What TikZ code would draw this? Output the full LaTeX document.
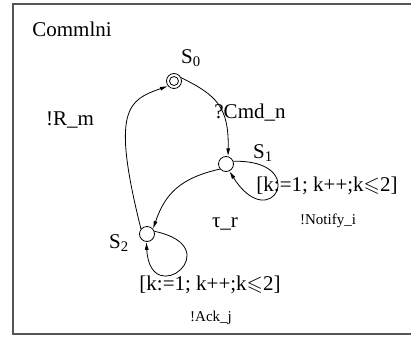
\documentclass[tikz,border=0pt]{standalone}
\usepackage{amssymb}
\usepackage{fontspec}
\setmainfont{Liberation Serif}
\usetikzlibrary{arrows.meta}
\definecolor{framegray}{HTML}{555555}
\tikzset{
  state/.style={circle,draw,line width=0.8pt,inner sep=0pt,minimum size=15pt},
  arr/.style={line width=0.8pt,-{Latex[length=8pt,width=4pt]}},
  big/.style={font=\fontsize{21}{24}\selectfont,inner sep=0pt},
  small/.style={font=\fontsize{15}{18}\selectfont,inner sep=0pt},
}
\begin{document}
\begin{tikzpicture}[x=1pt,y=-1pt]
\useasboundingbox (0,0) rectangle (411,337);
\draw[framegray,line width=2pt] (412,4) -- (13,4) -- (13,334) -- (412,334);

\node[big] (title) at (72,29) {Commlni};

\node[state] (s0) at (174,81) {};
\draw[line width=0.8pt] (s0.center) circle (4.5);
\node[state] (s1) at (226,164) {};
\node[state] (s2) at (147,234) {};

\node[big] (l0) at (191,58) {S\textsubscript{0}};
\node[big] (l1) at (263,153) {S\textsubscript{1}};
\node[big] (l2) at (119,243) {S\textsubscript{2}};

\draw[arr] (s2.140) .. controls +(-30,-120) and +(-40,14) .. (s0.220);
\draw[arr] (s0.25) .. controls +(35,17.5) and +(1,-50) .. (s1.75);
\draw[arr] (s1.220) .. controls +(-40,9) and +(12,-35) .. (s2.40);
\draw[arr] (s1.20) .. controls +(78,-2) and +(42,66) .. (s1.-65);
\draw[arr] (s2.20) .. controls +(76,16) and +(4,70) .. (s2.-95);

\node[big] (rm) at (70,120) {!R\_m};
\node[big] (cmd) at (250,113) {?Cmd\_n};
\node[big] (g1) at (327,186) {[k:=1; k++;k$\leqslant$2]};
\node[small] (nt) at (328,221) {!Notify\_i};
\node[big] (tau) at (225,224) {τ\_r};
\node[big] (g2) at (210,285) {[k:=1; k++;k$\leqslant$2]};
\node[small] (ack) at (211,318) {!Ack\_j};
\end{tikzpicture}
\end{document}
